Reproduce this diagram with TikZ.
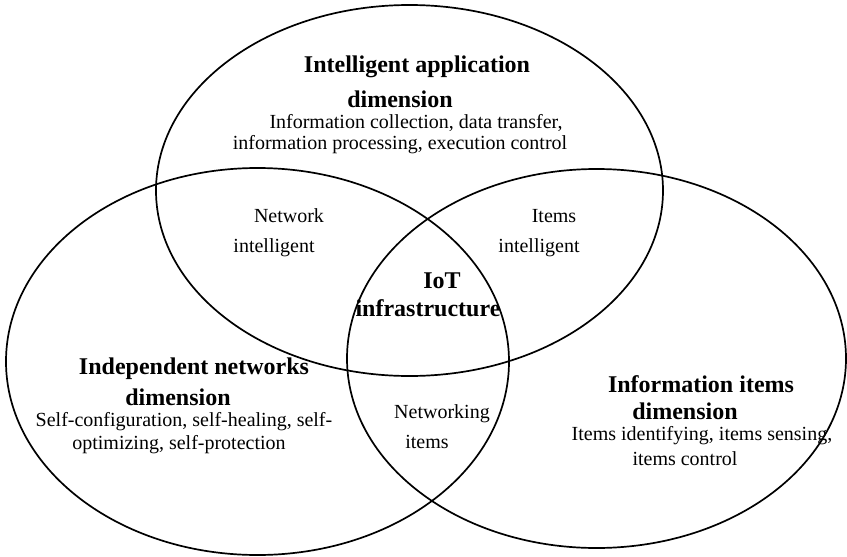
\documentclass[tikz,border=0pt]{standalone}
\usepackage{fontspec}
\setmainfont{Liberation Serif}
\usepackage{tikz}
\newcommand\headfont{\fontsize{24}{27}\selectfont\bfseries}
\newcommand\bodyfont{\fontsize{20}{22}\selectfont}

\begin{document}
\begin{tikzpicture}[x=1pt,y=-1pt,
    ring/.style={line width=1.7pt,black},
    head/.style={font=\headfont,inner sep=0pt},
    body/.style={font=\bodyfont,inner sep=0pt}]
        \useasboundingbox (0,0) rectangle (847,557);
        \draw[ring] (409.5,190.5) ellipse [x radius=253.5, y radius=185.5];
        \draw[ring] (257.5,361.5) ellipse [x radius=251.5, y radius=193.5];
        \draw[ring] (596.5,358.5) ellipse [x radius=249.5, y radius=189.5];
        \node[head] (appA) at (417,67) {Intelligent application};
        \node[head] (appB) at (400,99) {dimension};
        \node[body] (appC) at (416,123) {Information collection, data transfer,};
        \node[body] (appD) at (400,145) {information processing, execution control};
        \node[body] (netA) at (289,216) {Network};
        \node[body] (netB) at (274,248) {intelligent};
        \node[body] (itmA) at (554,216) {Items};
        \node[body] (itmB) at (539,248) {intelligent};
        \node[head] (iotA) at (442,281) {IoT};
        \node[head] (iotB) at (428,308) {infrastructure};
        \node[head] (indA) at (194,369) {Independent networks};
        \node[head] (indB) at (178,397) {dimension};
        \node[body] (indC) at (184,422) {Self-configuration, self-healing, self-};
        \node[body] (indD) at (179,445) {optimizing, self-protection};
        \node[body] (nwiA) at (442,414) {Networking};
        \node[body] (nwiB) at (427,442) {items};
        \node[head] (infA) at (701,384) {Information items};
        \node[head] (infB) at (685,411) {dimension};
        \node[body] (infC) at (702,436) {Items identifying, items sensing,};
        \node[body] (infD) at (685,459) {items control};
\end{tikzpicture}
\end{document}
